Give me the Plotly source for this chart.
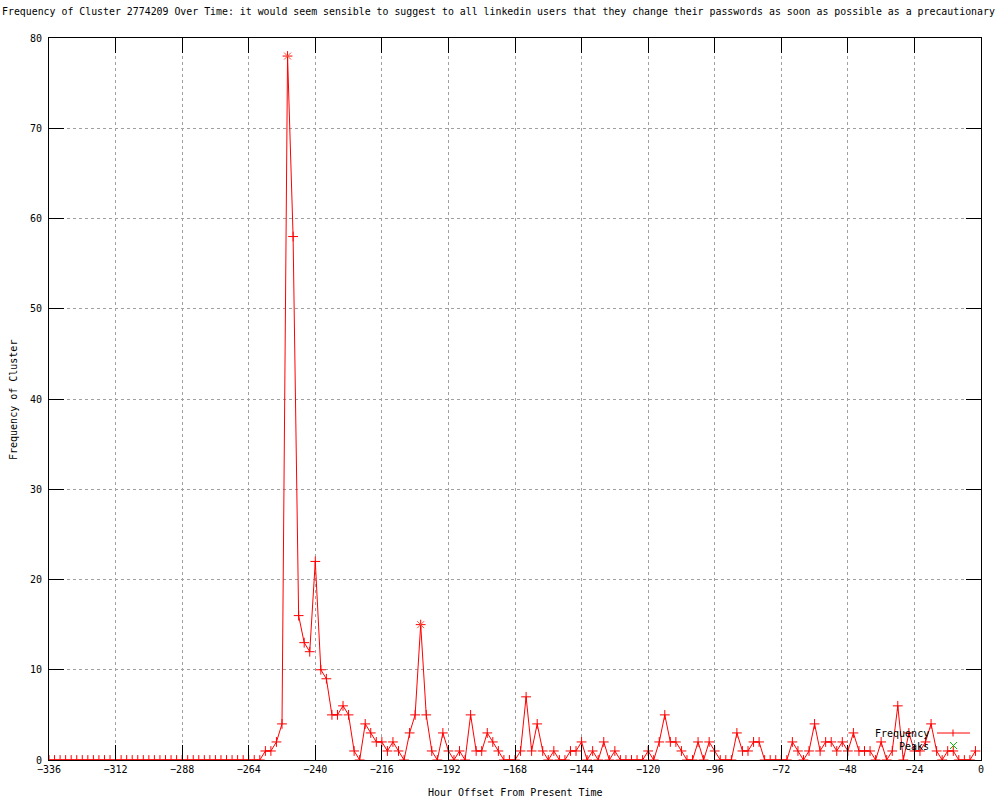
"""
Frequency of a cluster over time, gnuplot-style line chart
"""

import plotly.graph_objects as go

# hour offsets, one sample every 2 hours
hours = list(range(-336, 0, 2))

frequency = [0] * 39 + [
    1, 1, 2, 4, 78, 58, 16, 13, 12, 22,      # -258 .. -240
    10, 9, 5, 5, 6, 5, 1, 0, 4, 3,           # -238 .. -220
    2, 2, 1, 2, 1, 0, 3, 5, 15, 5,           # -218 .. -200
    1, 0, 3, 1, 0, 1, 0, 5, 1, 1,            # -198 .. -180
    3, 2, 1, 0, 0, 0, 1, 7, 1, 4,            # -178 .. -160
    1, 0, 1, 0, 0, 1, 1, 2, 0, 1,            # -158 .. -140
    0, 2, 0, 1, 0, 0, 0, 0, 0, 1,            # -138 .. -120
    0, 2, 5, 2, 2, 1, 0, 0, 2, 0,            # -118 .. -100
    2, 1, 0, 0, 0, 3, 1, 1, 2, 2,            # -98 .. -80
    0, 0, 0, 0, 0, 2, 1, 0, 1, 4,            # -78 .. -60
    1, 2, 2, 1, 2, 1, 3, 1, 1, 1,            # -58 .. -40
    0, 2, 0, 1, 6, 0, 3, 1, 1, 2,            # -38 .. -20
    4, 1, 0, 1, 1, 0, 0, 0, 1,               # -18 .. -2
]

peak_hours = [-250, -202]
peak_values = [78, 15]

x_ticks = [-336, -312, -288, -264, -240, -216, -192, -168, -144, -120,
           -96, -72, -48, -24, 0]
y_ticks = [0, 10, 20, 30, 40, 50, 60, 70, 80]

TITLE = ("Frequency of Cluster 2774209 Over Time: it would seem sensible to "
         "suggest to all linkedin users that they change their passwords as "
         "soon as possible as a precautionary")

FONT = "DejaVu Sans Mono"
RED = "#ff0000"
GREEN = "#00c000"

# plot area in pixels
L, R, T, B = 49, 981, 38, 760


def px(x):
    return (x - L) / (R - L)


def py(y):
    return (B - y) / (B - T)


fig = go.Figure()

fig.add_trace(go.Scatter(
    x=hours,
    y=frequency,
    mode='lines+markers',
    name='Frequency',
    line=dict(color=RED, width=1),
    marker=dict(symbol='cross-thin-open', size=7,
                line=dict(color=RED, width=1))
))

fig.add_trace(go.Scatter(
    x=peak_hours,
    y=peak_values,
    mode='markers',
    name='Peaks',
    marker=dict(symbol='x-thin-open', size=7,
                line=dict(color=GREEN, width=1))
))

axis_style = dict(
    showline=True,
    linecolor='black',
    linewidth=1,
    mirror='ticks',
    ticks='inside',
    ticklen=15,
    tickcolor='black',
    showgrid=True,
    gridcolor='#a0a0a0',
    griddash='dot',
    gridwidth=1,
    zeroline=False,
    tickfont=dict(family=FONT, size=10, color='black'),
)

fig.update_xaxes(range=[-336, 0], tickvals=x_ticks, **axis_style)
fig.update_yaxes(range=[0, 80], tickvals=y_ticks, ticklabelstandoff=4,
                 **axis_style)

annotations = [
    dict(text=TITLE, x=px(0), y=py(12), xanchor='left', yanchor='middle',
         size=9.9),
    dict(text='Hour Offset From Present Time', x=0.5, y=py(793),
         xanchor='center', yanchor='middle'),
    dict(text='Frequency of Cluster', x=px(13), y=py(400), textangle=-90,
         xanchor='center', yanchor='middle'),
    dict(text='Frequency', x=px(931), y=py(733), xanchor='right',
         yanchor='middle'),
    dict(text='Peaks', x=px(931), y=py(746), xanchor='right',
         yanchor='middle'),
]
for a in annotations:
    size = a.pop('size', 10)
    a.update(xref='paper', yref='paper', showarrow=False,
             font=dict(family=FONT, size=size, color='black'))

# legend samples drawn gnuplot-style (text left, sample right)
shapes = [
    dict(x0=px(937), x1=px(970), y0=py(733), y1=py(733), color=RED),
    dict(x0=px(953), x1=px(953), y0=py(729.5), y1=py(736.5), color=RED),
    dict(x0=px(950), x1=px(957), y0=py(742), y1=py(749), color=GREEN),
    dict(x0=px(950), x1=px(957), y0=py(749), y1=py(742), color=GREEN),
]
fig.update_layout(shapes=[
    dict(type='line', xref='paper', yref='paper', x0=s['x0'], x1=s['x1'],
         y0=s['y0'], y1=s['y1'], line=dict(color=s['color'], width=1))
    for s in shapes
])

fig.update_layout(
    width=1000,
    height=800,
    margin=dict(l=L, r=1000 - R, t=T, b=800 - B),
    plot_bgcolor='white',
    paper_bgcolor='white',
    showlegend=False,
    hovermode=False,
    annotations=annotations,
    font=dict(family=FONT, size=10, color='black'),
)

fig.write_html(
    "out.html",
    config={'displayModeBar': False},
    post_script="document.body.style.margin='0';"
                "document.body.style.overflow='hidden';"
)
